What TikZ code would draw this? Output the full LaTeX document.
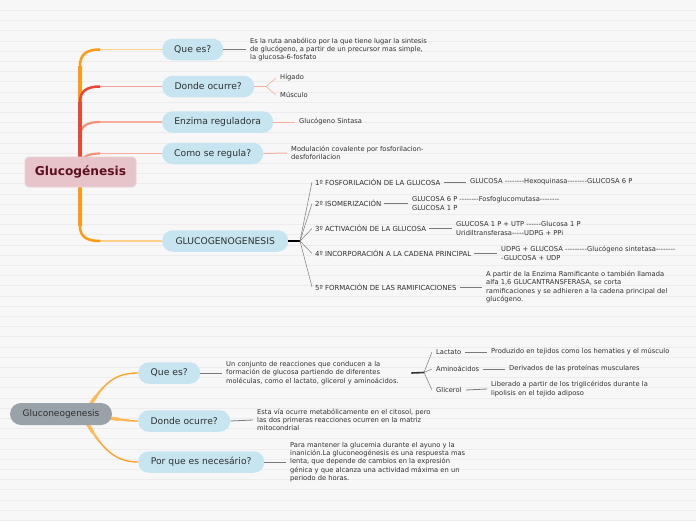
\documentclass[tikz,border=0pt]{standalone}
\usepackage{fontspec}
\setmainfont{DejaVu Sans}
\definecolor{bg}{HTML}{F7F7F7}
\definecolor{rulec}{HTML}{ECECEC}
\definecolor{nodeblue}{HTML}{C6E5F0}
\definecolor{pinkc}{HTML}{E6C4CA}
\definecolor{darkred}{HTML}{5C0F1E}
\definecolor{grayc}{HTML}{9AA2A9}
\definecolor{orng}{HTML}{FF9A14}
\definecolor{orngl}{HTML}{FFD08A}
\definecolor{redc}{HTML}{EE4632}
\definecolor{redl}{HTML}{F4A09A}
\definecolor{salm}{HTML}{F58F78}
\definecolor{salml}{HTML}{F8AE9C}
\definecolor{conn}{HTML}{7A7A7A}
\definecolor{txt}{HTML}{303030}
\newcommand{\hy}[1]{\foreach \k in {1,...,#1}{-}}
\tikzset{
  topic/.style={rounded corners=10.5pt, fill=nodeblue, minimum height=21.5, inner sep=0,
    font=\fontsize{9.2}{11}\selectfont, text=txt, anchor=west},
  desc/.style={font=\fontsize{6.72}{8.3}\selectfont, align=left, inner xsep=4, inner ysep=0,
    anchor=west, text=txt},
  steplbl/.style={font=\fontsize{6.95}{8.3}\selectfont, inner xsep=3, inner ysep=0, anchor=west, text=txt},
  cline/.style={conn, line width=0.8},
  fanline/.style={conn, line width=0.5},
}
\begin{document}
\begin{tikzpicture}[x=1pt,y=-1pt]
\fill[bg] (0,0) rectangle (696,520);
\useasboundingbox (0,0) rectangle (696,520);
\foreach \i in {0,...,50} \draw[rulec, line width=0.6] (0,10.3+\i*10.2) -- (696,10.3+\i*10.2);

% ---------- Glucogenesis ----------
\node[topic, minimum width=61] (q1) at (162,49.5) {Que es?};
\node[topic, minimum width=92] (d1) at (162,86.5) {Donde ocurre?};
\node[topic, minimum width=111] (e1) at (162,122) {Enzima reguladora};
\node[topic, minimum width=101] (c1) at (162,153.5) {Como se regula?};
\node[topic, minimum width=126] (gg) at (162,241) {GLUCOGENOGENESIS};

% branches (drawn under the central node)
\draw[salml, line width=1.2] (100,153.5) -- (c1.west);
\draw[salm, line width=2.2] (80,172) -- (80,166) .. controls (80,157) and (88,153.5) .. (100,153.5);
\draw[salml, line width=1.2] (100,122) -- (e1.west);
\draw[salm, line width=2.2] (80,172) -- (80,137) .. controls (80,126) and (87,122) .. (100,122);
\draw[orngl, line width=1.2] (100,49.5) -- (q1.west);
\draw[orng, line width=4.5] (80,172) -- (80,66);
\draw[orng, line width=2.5] (80,66) .. controls (80,54) and (87,49.5) .. (100,49.5);
\draw[redl, line width=1.2] (100,86.5) -- (d1.west);
\draw[redc, line width=4.5] (80,172) -- (80,102);
\draw[redc, line width=2.5] (80,102) .. controls (80,91) and (87,86.5) .. (100,86.5);
\draw[orngl, line width=1.2] (100,241) -- (gg.west);
\draw[orng, line width=4.5] (80,172) -- (80,226);
\draw[orng, line width=2.5] (80,226) .. controls (80,237) and (87,241) .. (100,241);

\node[fill=pinkc, draw=pinkc!80!white, line width=0.8, rounded corners=4pt, minimum width=111, minimum height=30,
  inner sep=0, font=\bfseries\fontsize{12.2}{14}\selectfont, text=darkred] (g) at (80.5,172) {Glucogénesis};

% details
\node[desc] (q1d) at (246,49.5) {Es la ruta anabólico por la que tiene lugar la sintesis\\de glucógeno, a partir de un precursor mas simple,\\la glucosa-6-fosfato};
\draw[cline] (q1.east) -- (q1d.west);

\coordinate (fk) at (266,86.5);
\node[desc] (hig) at (276,78) {Hígado};
\node[desc] (mus) at (276,95) {Músculo};
\draw[salml, line width=1.5] (d1.east) -- (fk);
\draw[salml, line width=0.6] (fk) -- (hig.west);
\draw[salml, line width=0.6] (fk) -- (mus.west);

\node[desc] (gs) at (295,122) {Glucógeno Sintasa};
\draw[salml, line width=1] (e1.east) -- (gs.west);

\node[desc] (mod) at (287,153) {Modulación covalente por fosforilacion-\\desfoforilacion};
\draw[salml, line width=1] (c1.east) -- (mod.west);

% steps
\coordinate (f1) at (300,241);
\draw[black, line width=1.6] (gg.east) -- (f1);
\node[steplbl] (s1) at (312,182) {1º FOSFORILACIÓN DE LA GLUCOSA};
\node[steplbl] (s2) at (312,203.5) {2º ISOMERIZACIÓN};
\node[steplbl] (s3) at (312,228.5) {3º ACTIVACIÓN DE LA GLUCOSA};
\node[steplbl] (s4) at (312,253.5) {4º INCORPORACIÓN A LA CADENA PRINCIPAL};
\node[steplbl] (s5) at (312,287) {5º FORMACIÓN DE LAS RAMIFICACIONES};
\foreach \s in {s1,s2,s3,s4,s5} \draw[fanline] (f1) -- (\s.west);

\node[desc] (r1) at (466,182) {GLUCOSA \hy{8}Hexoquinasa\hy{8}GLUCOSA 6 P};
\node[desc] (r2) at (408,203.5) {GLUCOSA 6 P \hy{8}Fosfoglucomutasa\hy{8}\\GLUCOSA 1 P};
\node[desc] (r3) at (452,228.5) {GLUCOSA 1 P + UTP \hy{6}Glucosa 1 P\\Uridiltransferasa\hy{5}UDPG + PPi};
\node[desc] (r4) at (497,253.5) {UDPG + GLUCOSA \hy{9}Glucógeno sintetasa\hy{8}\\\hy{1}GLUCOSA + UDP};
\node[desc] (r5) at (482,287) {A partir de la Enzima Ramificante o también llamada\\alfa 1,6 GLUCANTRANSFERASA, se corta\\ramificaciones y se adhieren a la cadena principal del\\glucógeno.};
\draw[cline] (s1.east) -- (r1.west);
\draw[cline] (s2.east) -- (r2.west);
\draw[cline] (s3.east) -- (r3.west);
\draw[cline] (s4.east) -- (r4.west);
\draw[cline] (s5.east) -- (r5.west);

% ---------- Gluconeogenesis ----------
\node[topic, minimum width=62] (q2) at (138,373) {Que es?};
\node[topic, minimum width=92] (d2) at (138,421) {Donde ocurre?};
\node[topic, minimum width=126] (p2) at (138,462) {Por que es necesário?};

\foreach \w/\len in {1.3/200, 2.2/22, 3.4/11}{
  \draw[orng!\the\numexpr 40+\len/4\relax!orngl, line width=\w, dash pattern=on \len pt off 300pt]
    (90,405) .. controls (104,384) and (114,373) .. (q2.west);
  \draw[orng!\the\numexpr 40+\len/4\relax!orngl, line width=\w, dash pattern=on \len pt off 300pt]
    (108,418) .. controls (122,419.5) and (128,421) .. (d2.west);
  \draw[orng!\the\numexpr 40+\len/4\relax!orngl, line width=\w, dash pattern=on \len pt off 300pt]
    (87,423) .. controls (101,446) and (113,462) .. (p2.west);
}

\node[fill=grayc, rounded corners=11pt, minimum width=102, minimum height=22, inner sep=0,
  font=\fontsize{9}{11}\selectfont, text=txt] (gn) at (61,414) {Gluconeogenesis};

\node[desc, text width=181] (q2d) at (222,373) {Un conjunto de reacciones que conducen a la\\formación de glucosa partiendo de diferentes\\moléculas, como el lactato, glicerol y aminoácidos.};
\draw[cline] (q2.east) -- (q2d.west);
\coordinate (k2) at (424,372.5);
\draw[black!80, line width=1.6] (q2d.east) -- (k2);
\node[desc] (lac) at (432,352) {Lactato};
\node[desc] (ami) at (432,369) {Aminoácidos};
\node[desc] (gli) at (432,390) {Glicerol};
\foreach \s in {lac,ami,gli} \draw[fanline] (k2) -- (\s.west);
\node[desc] (pl) at (487,352) {Produzido en tejidos como los hematies y el músculo};
\node[desc] (pa) at (505,369) {Derivados de las proteínas musculares};
\node[desc] (pg) at (487,389) {Liberado a partir de los triglicéridos durante la\\lipolisis en el tejido adiposo};
\draw[cline] (lac.east) -- (pl.west);
\draw[cline] (ami.east) -- (pa.west);
\draw[cline] (gli.east) -- (pg.west);

\node[desc] (d2d) at (253,420) {Esta vía ocurre metabólicamente en el citosol, pero\\las dos primeras reacciones ocurren en la matriz\\mitocondrial};
\draw[cline] (d2.east) -- (d2d.west);

\node[desc] (p2d) at (286,462) {Para mantener la glucemia durante el ayuno y la\\inanición.La gluconeogénesis es una respuesta mas\\lenta, que depende de cambios en la expresión\\génica y que alcanza una actividad máxima en un\\periodo de horas.};
\draw[cline] (p2.east) -- (p2d.west);
\end{tikzpicture}
\end{document}
